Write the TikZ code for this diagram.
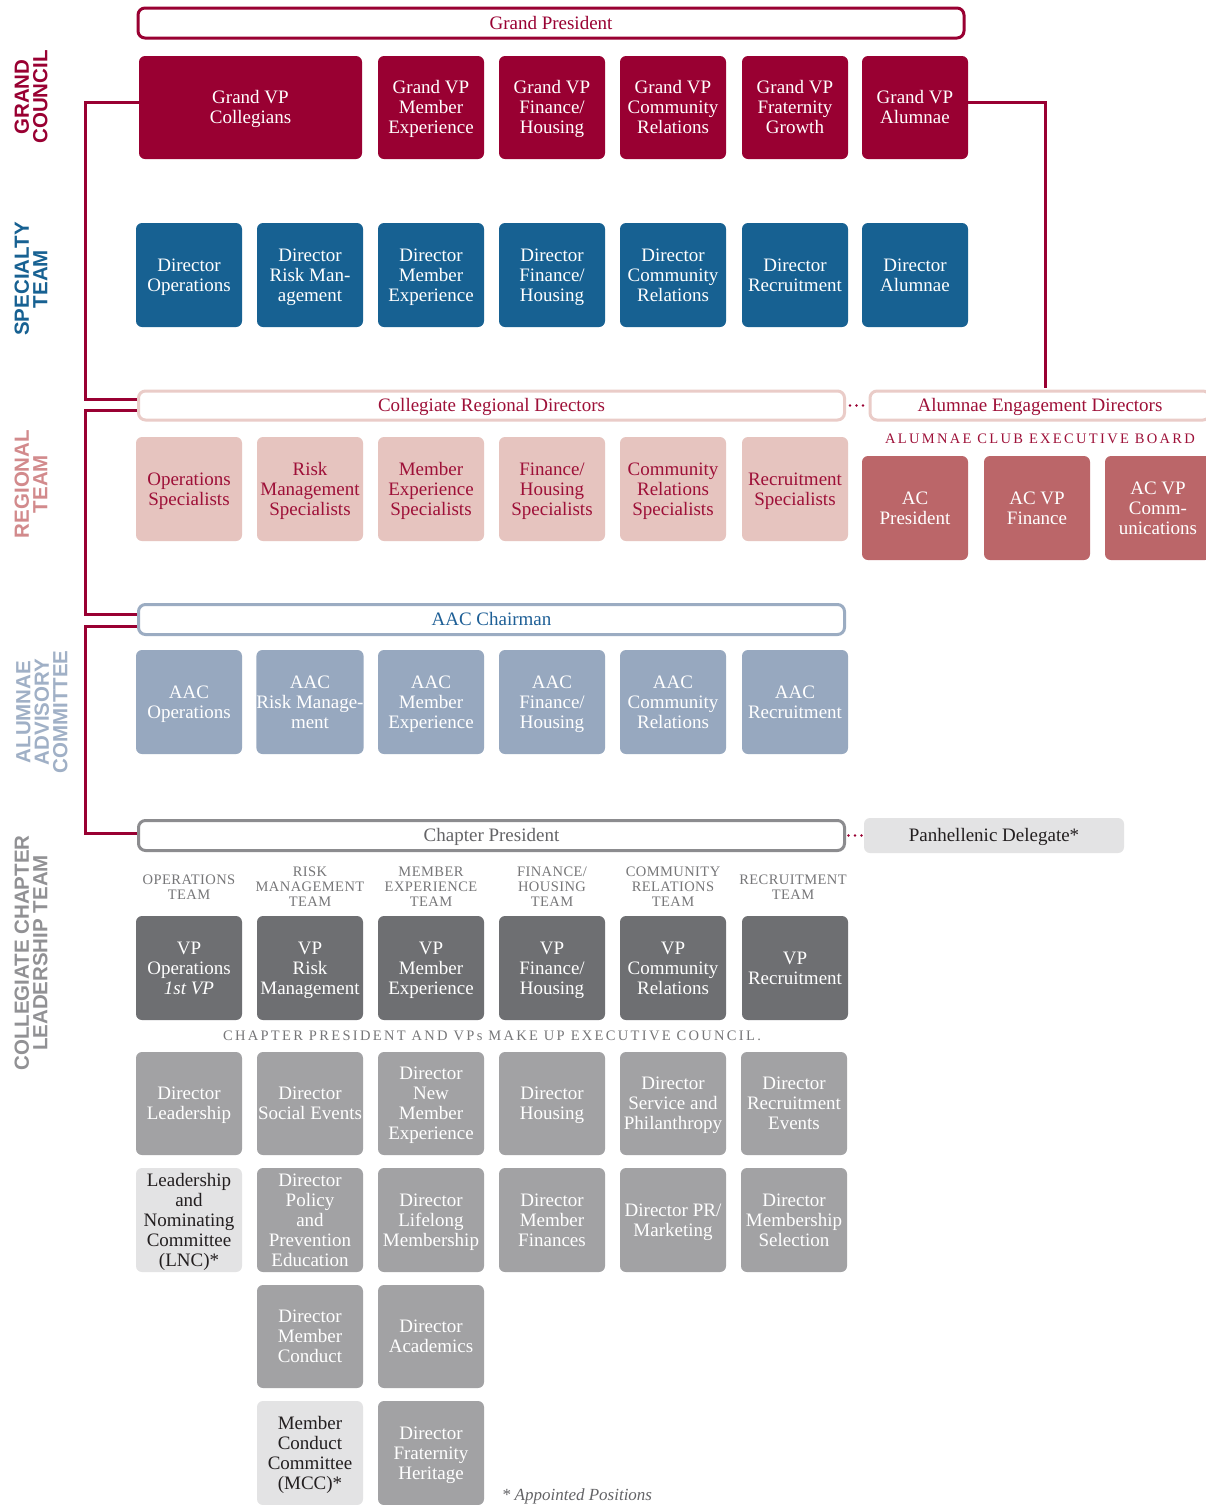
\documentclass[tikz,border=0pt]{standalone}
\usepackage{fontspec}
\setmainfont{Liberation Serif}
\newfontfamily\sidefont{Liberation Sans}
\newfontfamily\spacedfont[LetterSpace=16]{Liberation Serif}
\newfontfamily\teamfont[LetterSpace=3]{Liberation Serif}
\newcommand\tl{\rule{0pt}{18pt}}
\definecolor{gcred}{RGB}{153,0,50}
\definecolor{spblue}{RGB}{23,97,146}
\definecolor{rgfill}{RGB}{230,196,191}
\definecolor{rgtext}{RGB}{158,16,56}
\definecolor{rgline}{RGB}{234,204,200}
\definecolor{acfill}{RGB}{187,102,105}
\definecolor{rgside}{RGB}{210,138,140}
\definecolor{aacfill}{RGB}{151,168,191}
\definecolor{aacline}{RGB}{155,172,194}
\definecolor{aactext}{RGB}{30,95,150}
\definecolor{aacside}{RGB}{160,176,198}
\definecolor{vpfill}{RGB}{110,111,114}
\definecolor{dirfill}{RGB}{162,162,164}
\definecolor{ltfill}{RGB}{227,227,228}
\definecolor{cpline}{RGB}{140,140,143}
\definecolor{cptext}{RGB}{100,100,103}
\definecolor{colside}{RGB}{145,145,148}
\definecolor{teamgrey}{RGB}{118,118,120}
\definecolor{darktext}{RGB}{35,31,32}
\begin{document}
\begin{tikzpicture}[x=1pt,y=-1pt,
  vcenter/.style={execute at end node={\rule[-5.4pt]{0pt}{0pt}}},
  box/.style={vcenter, rounded corners=6pt, minimum width=106pt, minimum height=104pt, inner sep=0pt, align=center, font=\fontsize{19}{20}\selectfont},
  gcbox/.style={box, fill=gcred, text=white},
  spbox/.style={box, fill=spblue, text=white},
  rgbox/.style={box, fill=rgfill, text=rgtext},
  acbox/.style={box, fill=acfill, text=white},
  aacbox/.style={box, fill=aacfill, text=white},
  vpbox/.style={box, fill=vpfill, text=white},
  dirbox/.style={box, fill=dirfill, text=white},
  ltbox/.style={box, fill=ltfill, text=darktext},
  outbox/.style={vcenter, rounded corners=7pt, line width=3pt, fill=white, inner sep=0pt, minimum height=30pt, font=\fontsize{19}{20}\selectfont},
  conn/.style={draw=gcred, line width=3pt},
  dotline/.style={draw=gcred, line width=2.6pt, line cap=round, dash pattern=on 0pt off 6.5pt},
  side/.style={rotate=90, align=center, font=\sidefont\bfseries\fontsize{20.5}{18.5}\selectfont},
  team/.style={align=center, text=teamgrey, font=\teamfont\fontsize{14.5}{15}\selectfont},
  caption/.style={font=\spacedfont\fontsize{14.5}{15}\selectfont}
]
\useasboundingbox (0,0) rectangle (1206,1505);
\fill[white] (0,0) rectangle (1206,1505);

% side labels
\node[side, text=gcred] (sgc) at (31,97) {GRAND\\COUNCIL};
\node[side, text=spblue] (ssp) at (31,279) {SPECIALTY\\TEAM};
\node[side, text=rgside] (srg) at (31,484) {REGIONAL\\TEAM};
\node[side, text=aacside] (saac) at (42,712) {ALUMNAE\\ADVISORY\\COMMITTEE};
\node[side, text=colside] (scol) at (31,953) {COLLEGIATE CHAPTER\\LEADERSHIP TEAM};

% Grand president
\node[outbox, draw=gcred, text=gcred, minimum width=826pt] (gp) at (551,23) {\tl Grand President};

% Grand council
\node[gcbox, minimum width=223pt, minimum height=103pt] (gvpc) at (250.5,107.5) {\tl Grand VP\\Collegians};
\node[gcbox, minimum height=103pt] (gvpm) at (431,107.5) {\tl Grand VP\\Member\\Experience};
\node[gcbox, minimum height=103pt] (gvpf) at (552,107.5) {\tl Grand VP\\Finance/\\Housing};
\node[gcbox, minimum height=103pt] (gvpcr) at (673,107.5) {\tl Grand VP\\Community\\Relations};
\node[gcbox, minimum height=103pt] (gvpfg) at (795,107.5) {\tl Grand VP\\Fraternity\\Growth};
\node[gcbox, minimum height=103pt] (gvpa) at (915,107.5) {\tl Grand VP\\Alumnae};

% Specialty team
\node[spbox] (dop) at (189,275) {\tl Director\\Operations};
\node[spbox] (drm) at (310,275) {\tl Director\\Risk Man-\\agement};
\node[spbox] (dme) at (431,275) {\tl Director\\Member\\Experience};
\node[spbox] (dfh) at (552,275) {\tl Director\\Finance/\\Housing};
\node[spbox] (dcr) at (673,275) {\tl Director\\Community\\Relations};
\node[spbox] (drc) at (795,275) {\tl Director\\Recruitment};
\node[spbox] (dal) at (915,275) {\tl Director\\Alumnae};

% Regional
\node[outbox, draw=rgline, text=rgtext, minimum width=706pt, minimum height=29pt] (crd) at (491.5,405.5) {\tl Collegiate Regional Directors};
\node[outbox, draw=rgline, text=rgtext, minimum width=340pt, minimum height=29pt] (aed) at (1040,405.5) {\tl Alumnae Engagement Directors};
\node[caption, text=rgtext] (aceb) at (1040,439) {ALUMNAE CLUB EXECUTIVE BOARD};

\node[rgbox] (rops) at (189,489) {\tl Operations\\Specialists};
\node[rgbox] (rrms) at (310,489) {\tl Risk\\Management\\Specialists};
\node[rgbox] (rmes) at (431,489) {\tl Member\\Experience\\Specialists};
\node[rgbox] (rfhs) at (552,489) {\tl Finance/\\Housing\\Specialists};
\node[rgbox] (rcrs) at (673,489) {\tl Community\\Relations\\Specialists};
\node[rgbox] (rrcs) at (795,489) {\tl Recruitment\\Specialists};

\node[acbox] (acp) at (915,508) {\tl AC\\President};
\node[acbox] (acf) at (1037,508) {\tl AC VP\\Finance};
\node[acbox] (acc) at (1158,508) {\tl AC VP\\Comm-\\unications};

% AAC
\node[outbox, draw=aacline, text=aactext, minimum width=706pt] (aac) at (491.5,619.5) {\tl AAC Chairman};
\node[aacbox] (aop) at (189,702) {\tl AAC\\Operations};
\node[aacbox] (arm) at (310,702) {\tl AAC\\Risk Manage-\\ment};
\node[aacbox] (ame) at (431,702) {\tl AAC\\Member\\Experience};
\node[aacbox] (afh) at (552,702) {\tl AAC\\Finance/\\Housing};
\node[aacbox] (acr) at (673,702) {\tl AAC\\Community\\Relations};
\node[aacbox] (arc) at (795,702) {\tl AAC\\Recruitment};

% Chapter
\node[outbox, draw=cpline, text=cptext, minimum width=706pt] (cp) at (491.5,835.5) {\tl Chapter President};
\node[vcenter, rounded corners=6pt, fill=ltfill, text=darktext, minimum width=260pt, minimum height=35pt, inner sep=0pt, font=\fontsize{19}{20}\selectfont] (pan) at (994,835.5) {\tl Panhellenic Delegate*};

\node[team] (t1) at (189,887) {OPERATIONS\\TEAM};
\node[team] (t2) at (310,887) {RISK\\MANAGEMENT\\TEAM};
\node[team] (t3) at (431,887) {MEMBER\\EXPERIENCE\\TEAM};
\node[team] (t4) at (552,887) {FINANCE/\\HOUSING\\TEAM};
\node[team] (t5) at (673,887) {COMMUNITY\\RELATIONS\\TEAM};
\node[team] (t6) at (793,887) {RECRUITMENT\\TEAM};

\node[vpbox] (vop) at (189,968) {\tl VP\\Operations\\\textit{1st VP}};
\node[vpbox] (vrm) at (310,968) {\tl VP\\Risk\\Management};
\node[vpbox] (vme) at (431,968) {\tl VP\\Member\\Experience};
\node[vpbox] (vfh) at (552,968) {\tl VP\\Finance/\\Housing};
\node[vpbox] (vcr) at (673,968) {\tl VP\\Community\\Relations};
\node[vpbox] (vrc) at (795,968) {\tl VP\\Recruitment};

\node[caption, text=teamgrey] (exec) at (492,1036) {CHAPTER PRESIDENT AND VPs MAKE UP EXECUTIVE COUNCIL.};

\node[dirbox, minimum height=103pt] (d11) at (189,1103.5) {\tl Director\\Leadership};
\node[dirbox, minimum height=103pt] (d12) at (310,1103.5) {\tl Director\\Social Events};
\node[dirbox, minimum height=103pt] (d13) at (431,1103.5) {\tl Director\\New\\Member\\Experience};
\node[dirbox, minimum height=103pt] (d14) at (552,1103.5) {\tl Director\\Housing};
\node[dirbox, minimum height=103pt] (d15) at (673,1103.5) {\tl Director\\Service and\\Philanthropy};
\node[dirbox, minimum height=103pt] (d16) at (794,1103.5) {\tl Director\\Recruitment\\Events};

\node[ltbox] (d21) at (189,1220) {\tl Leadership\\and\\Nominating\\Committee\\(LNC)*};
\node[dirbox] (d22) at (310,1220) {\tl Director\\Policy\\and\\Prevention\\Education};
\node[dirbox] (d23) at (431,1220) {\tl Director\\Lifelong\\Membership};
\node[dirbox] (d24) at (552,1220) {\tl Director\\Member\\Finances};
\node[dirbox] (d25) at (673,1220) {\tl Director PR/\\Marketing};
\node[dirbox] (d26) at (794,1220) {\tl Director\\Membership\\Selection};

\node[dirbox, minimum height=103pt] (d32) at (310,1336.5) {\tl Director\\Member\\Conduct};
\node[dirbox, minimum height=103pt] (d33) at (431,1336.5) {\tl Director\\Academics};

\node[ltbox] (d42) at (310,1453) {\tl Member\\Conduct\\Committee\\(MCC)*};
\node[dirbox] (d43) at (431,1453) {\tl Director\\Fraternity\\Heritage};

\node[text=cptext, font=\itshape\fontsize{17}{18}\selectfont] (note) at (577,1496) {* Appointed Positions};

% connectors
\coordinate (lsp) at (85,0);
\coordinate (rsp) at (1045,0);
\draw[conn] ([yshift=5pt]gvpc.west) -- ([yshift=5pt]gvpc.west -| lsp) -- ([yshift=6.5pt]crd.west -| lsp) -- ([yshift=6.5pt]crd.west);
\draw[conn] ([yshift=-4.5pt]crd.west) -- ([yshift=-4.5pt]crd.west -| lsp) -- ([yshift=5.5pt]aac.west -| lsp) -- ([yshift=5.5pt]aac.west);
\draw[conn] ([yshift=-6.5pt]aac.west) -- ([yshift=-6.5pt]aac.west -| lsp) -- ([yshift=2.5pt]cp.west -| lsp) -- ([yshift=2.5pt]cp.west);
\draw[conn] ([yshift=5pt]gvpa.east) -- ([yshift=5pt]gvpa.east -| rsp) -- ([yshift=1.5pt]aed.north -| rsp);
\draw[dotline] ([xshift=4pt]crd.east) -- ([xshift=-4pt]aed.west);
\draw[dotline] ([xshift=2.5pt]cp.east) -- ([xshift=-2pt]pan.west);
\end{tikzpicture}
\end{document}
